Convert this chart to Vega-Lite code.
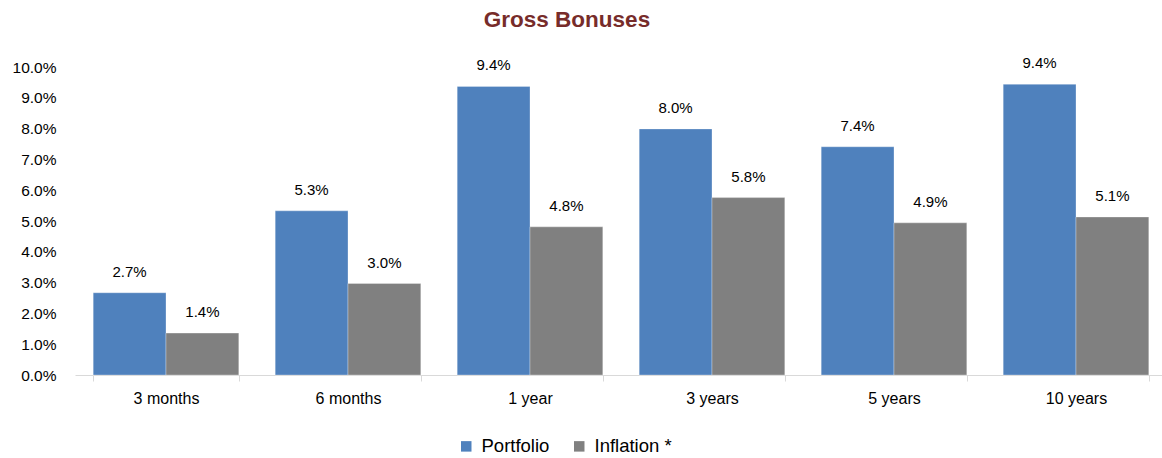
{
  "$schema": "https://vega.github.io/schema/vega-lite/v6.json",
  "autosize": "none",
  "width": 1092,
  "height": 308,
  "padding": {"left": 75, "top": 67, "right": 0, "bottom": 83},
  "background": "white",
  "title": {
    "text": "Gross Bonuses",
    "font": "Liberation Sans",
    "fontSize": 22.5,
    "fontWeight": "bold",
    "color": "#772C2A",
    "anchor": "middle",
    "dx": -54,
    "offset": 25
  },
  "config": {
    "view": {"stroke": null},
    "font": "Liberation Sans"
  },
  "data": {
    "values": [
      {"period": "3 months", "series": "Portfolio", "value": 0.0267},
      {"period": "3 months", "series": "Inflation *", "value": 0.0136},
      {"period": "6 months", "series": "Portfolio", "value": 0.0533},
      {"period": "6 months", "series": "Inflation *", "value": 0.0297},
      {"period": "1 year", "series": "Portfolio", "value": 0.0937},
      {"period": "1 year", "series": "Inflation *", "value": 0.0481},
      {"period": "3 years", "series": "Portfolio", "value": 0.0799},
      {"period": "3 years", "series": "Inflation *", "value": 0.0576},
      {"period": "5 years", "series": "Portfolio", "value": 0.0741},
      {"period": "5 years", "series": "Inflation *", "value": 0.0494},
      {"period": "10 years", "series": "Portfolio", "value": 0.0944},
      {"period": "10 years", "series": "Inflation *", "value": 0.0513}
    ]
  },
  "encoding": {
    "x": {
      "field": "period",
      "type": "nominal",
      "sort": ["3 months", "6 months", "1 year", "3 years", "5 years", "10 years"],
      "scale": {"paddingInner": 0.2, "paddingOuter": 0.1},
      "axis": {
        "title": null,
        "labelAngle": 0,
        "labelFontSize": 16,
        "labelColor": "#000000",
        "labelPadding": 9,
        "domainColor": "#D9D9D9",
        "tickColor": "#D9D9D9",
        "tickBand": "extent",
        "tickSize": 6,
        "domainWidth": 1
      }
    },
    "xOffset": {
      "field": "series",
      "type": "nominal",
      "sort": ["Portfolio", "Inflation *"],
      "scale": {"paddingInner": 0, "paddingOuter": 0}
    },
    "y": {
      "field": "value",
      "type": "quantitative",
      "scale": {"domain": [0, 0.1], "nice": false},
      "axis": {
        "title": null,
        "format": ".1%",
        "values": [0, 0.01, 0.02, 0.03, 0.04, 0.05, 0.06, 0.07, 0.08, 0.09, 0.1],
        "grid": false,
        "domain": false,
        "ticks": false,
        "labelPadding": 19,
        "labelFontSize": 15.5,
        "labelColor": "#000000"
      }
    }
  },
  "layer": [
    {
      "mark": {"type": "bar", "stroke": "#ffffff", "strokeWidth": 0.5, "strokeOpacity": 0.6},
      "encoding": {
        "color": {
          "field": "series",
          "type": "nominal",
          "sort": ["Portfolio", "Inflation *"],
          "scale": {"domain": ["Portfolio", "Inflation *"], "range": ["#4F81BD", "#808080"]},
          "legend": {
            "title": null,
            "orient": "none",
            "direction": "horizontal",
            "legendX": 382,
            "legendY": 370,
            "symbolType": "square",
            "symbolSize": 110,
            "symbolStrokeWidth": 0,
            "labelFontSize": 18.5,
            "labelColor": "#000000",
            "columnPadding": 20,
            "labelOffset": 6
          }
        }
      }
    },
    {
      "mark": {"type": "text", "baseline": "bottom", "dy": -13, "fontSize": 15, "color": "#000000"},
      "encoding": {
        "text": {"field": "value", "type": "quantitative", "format": ".1%"}
      }
    }
  ]
}
